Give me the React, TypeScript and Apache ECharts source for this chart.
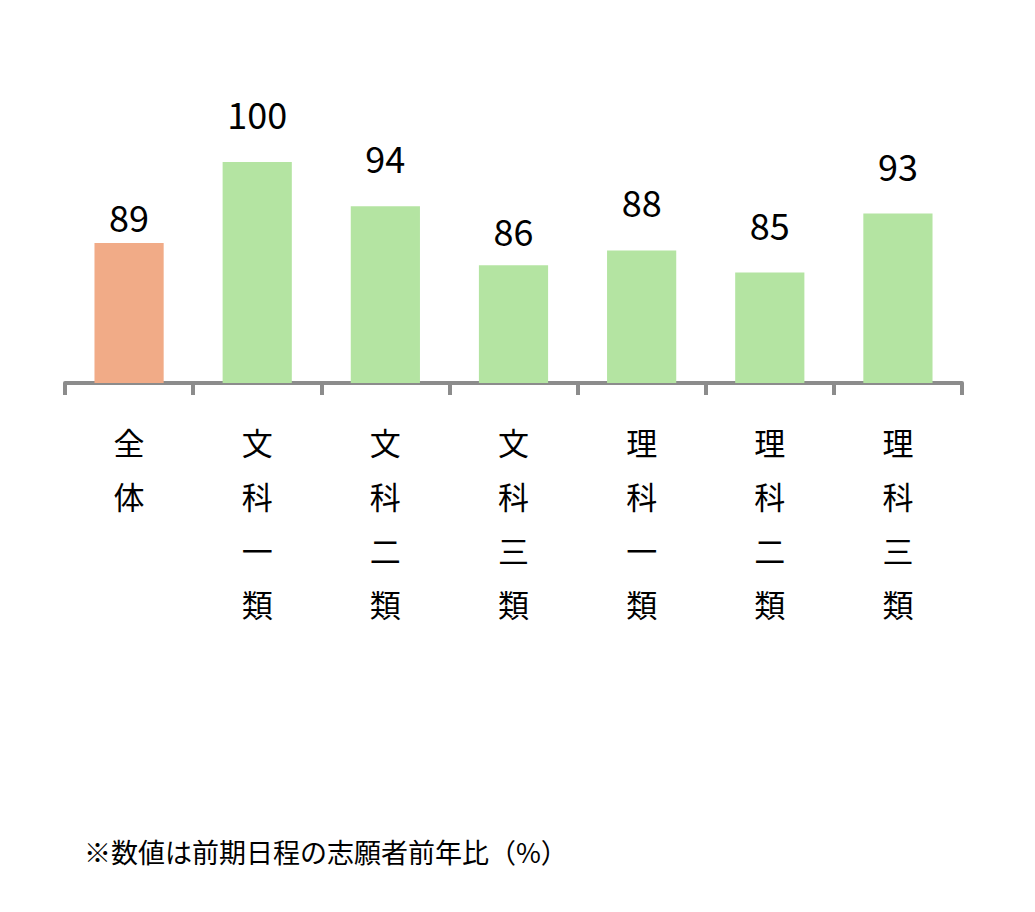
import React, { useEffect, useRef } from "react";
import * as echarts from "echarts";

const categories = ["全\n体", "文\n科\n一\n類", "文\n科\n二\n類", "文\n科\n三\n類", "理\n科\n一\n類", "理\n科\n二\n類", "理\n科\n三\n類"];
const values = [89, 100, 94, 86, 88, 85, 93];
const highlightIndex = 0;
const footnote = "※数値は前期日程の志願者前年比（%）";
const labelGaps = [9, 31, 31, 17, 31, 31, 31];

const FONT = "'Noto Sans CJK JP', 'Noto Sans', sans-serif";

export default function App() {
  const ref = useRef<HTMLDivElement>(null);
  useEffect(() => {
    document.body.style.margin = "0";
    const chart = echarts.init(ref.current!, null, { renderer: "svg" });
    chart.setOption({
      animation: false,
      backgroundColor: "#ffffff",
      grid: { left: 65, right: 73, top: 162, bottom: 529, containLabel: false },
      xAxis: {
        type: "category",
        data: categories,
        axisLine: { show: true, lineStyle: { color: "#8c8c8c", width: 4 } },
        axisTick: { show: true, length: 12, lineStyle: { color: "#8c8c8c", width: 4 }, interval: 0 },
        axisLabel: {
          interval: 0,
          margin: 31,
          fontSize: 31,
          lineHeight: 54,
          color: "#000000",
          fontFamily: FONT,
          verticalAlign: "top",
        },
      },
      yAxis: {
        type: "value",
        min: 70,
        max: 100,
        show: false,
        splitLine: { show: false },
      },
      series: [
        {
          type: "bar",
          barWidth: "54%",
          data: values.map((v, i) => ({
            value: v,
            itemStyle: { color: i === highlightIndex ? "#F1AB87" : "#B4E4A2" },
            label: { distance: labelGaps[i] },
          })),
          label: {
            show: true,
            position: "top",
            fontSize: 36,
            color: "#000000",
            fontFamily: FONT,
          },
        },
      ],
      graphic: [
        {
          type: "text",
          left: 84,
          top: 838,
          style: { text: footnote, fontSize: 27, fill: "#000000", fontFamily: FONT },
        },
      ],
    });
    return () => chart.dispose();
  }, []);
  return <div ref={ref} style={{ width: 1035, height: 912 }} />;
}
